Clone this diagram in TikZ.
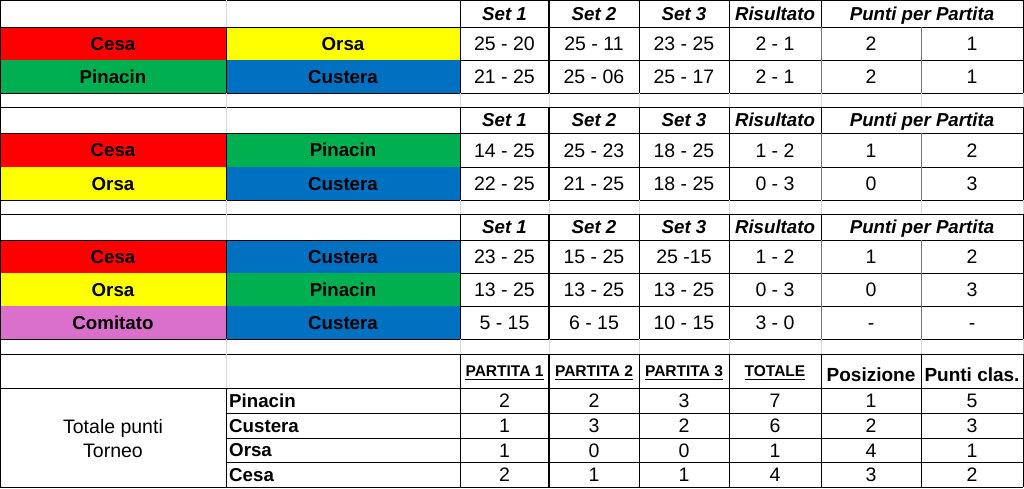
\documentclass[tikz,border=0pt]{standalone}
\usepackage{fontspec}
\setmainfont{Liberation Sans}
\usepackage{tikz}
\definecolor{cesared}{RGB}{255,0,0}
\definecolor{orsayellow}{RGB}{255,255,0}
\definecolor{pinacingreen}{RGB}{0,176,80}
\definecolor{custerablue}{RGB}{0,112,192}
\definecolor{comitatopink}{RGB}{218,112,204}
\definecolor{gridgray}{RGB}{217,217,217}
\begin{document}
\begin{tikzpicture}[x=1pt,y=-1pt,
	val/.style={inner sep=0pt,text height=14pt,text depth=0pt,font=\fontsize{19.5}{23}\selectfont},
	head/.style={inner sep=0pt,text height=13.4pt,text depth=0pt,font=\fontsize{18.7}{22}\selectfont\bfseries\itshape},
	team/.style={inner sep=0pt,text height=13.4pt,text depth=0pt,font=\fontsize{18.7}{22}\selectfont\bfseries},
	part/.style={inner sep=0pt,text height=11.1pt,text depth=0pt,font=\fontsize{15.5}{18}\selectfont\bfseries},
	rank/.style={inner sep=0pt,text height=13.6pt,text depth=0pt,font=\fontsize{19}{22}\selectfont\bfseries},
	blkline/.style={black,line width=1pt},
	thkline/.style={black,line width=2pt},
	dimline/.style={black!55,line width=1pt},
	grdline/.style={gridgray,line width=1pt}]
	\useasboundingbox (0,0) rectangle (1024,488);
	\fill [white] (0,0) rectangle (1024,488);
	% partite
	\foreach \yt/\yb/\ca/\ta/\cb/\tb/\sa/\sb/\sc/\res/\pa/\pb [count=\i] in {
		27/60/cesared/Cesa/orsayellow/Orsa/25 - 20/25 - 11/23 - 25/2 - 1/2/1,
		60/93/pinacingreen/Pinacin/custerablue/Custera/21 - 25/25 - 06/25 - 17/2 - 1/2/1,
		133/167/cesared/Cesa/pinacingreen/Pinacin/14 - 25/25 - 23/18 - 25/1 - 2/1/2,
		167/200/orsayellow/Orsa/custerablue/Custera/22 - 25/21 - 25/18 - 25/0 - 3/0/3,
		240/273/cesared/Cesa/custerablue/Custera/23 - 25/15 - 25/25 -15/1 - 2/1/2,
		273/306/orsayellow/Orsa/pinacingreen/Pinacin/13 - 25/13 - 25/13 - 25/0 - 3/0/3,
		306/339/comitatopink/Comitato/custerablue/Custera/5 - 15/6 - 15/10 - 15/3 - 0/-/-}
	{
		\fill [\ca] (0,\yt) rectangle (226,\yb);
		\fill [\cb] (226,\yt) rectangle (460,\yb);
		\node [team] (home\i) at (113,{(\yt+\yb)/2}) {\ta};
		\node [team] (away\i) at (343,{(\yt+\yb)/2}) {\tb};
		\node [val] (seta\i) at (504.5,{(\yt+\yb)/2}) {\sa};
		\node [val] (setb\i) at (594,{(\yt+\yb)/2}) {\sb};
		\node [val] (setc\i) at (684,{(\yt+\yb)/2}) {\sc};
		\node [val] (res\i) at (775,{(\yt+\yb)/2}) {\res};
		\node [val] (pta\i) at (871,{(\yt+\yb)/2}) {\pa};
		\node [val] (ptb\i) at (972,{(\yt+\yb)/2}) {\pb};
		\draw [blkline] (0,\yb) -- (1023,\yb);
	}
	% intestazioni
	\foreach \yc [count=\j] in {13.5,120,227}
	{
		\node [head] (hseta\j) at (504.5,\yc) {Set 1};
		\node [head] (hsetb\j) at (594,\yc) {Set 2};
		\node [head] (hsetc\j) at (684,\yc) {Set 3};
		\node [head] (hres\j) at (775,\yc) {Risultato};
		\node [head] (hpts\j) at (922,\yc) {Punti per Partita};
	}
	% righe vuote
	\foreach \yt/\yb in {93/107,200/214,339/354}
	{
		\foreach \x in {226,460,549,639,729,821,921,1023}
			\draw [grdline] (\x,\yt) -- (\x,\yb);
		\draw [blkline] (0,\yt) -- (0,\yb);
	}
	% griglia
	\foreach \yt/\yh/\yb in {0/27/93,107/133/200,214/240/339}
	{
		\draw [blkline] (0,\yt) -- (1023,\yt);
		\draw [blkline] (0,\yh) -- (1023,\yh);
		\draw [grdline] (226,\yt) -- (226,\yh);
		\draw [blkline] (226,\yh) -- (226,\yb);
		\foreach \x in {0,460,639,729,1023}
			\draw [blkline] (\x,\yt) -- (\x,\yb);
		\draw [thkline] (549,\yt) -- (549,\yb);
		\draw [blkline] (821,\yt) -- (821,\yh);
		\draw [dimline] (821,\yh) -- (821,\yb);
		\draw [dimline] (921,\yh) -- (921,\yb);
	}
	% totale torneo
	\draw [blkline] (0,354) -- (1023,354);
	\draw [blkline] (0,388) -- (1023,388);
	\draw [blkline] (0,487) -- (1023,487);
	\draw [grdline] (226,354) -- (226,388);
	\draw [blkline] (226,388) -- (226,487);
	\foreach \x in {0,460,639,729,821,921,1023}
		\draw [blkline] (\x,354) -- (\x,487);
	\draw [thkline] (549,354) -- (549,487);
	\foreach \y in {413,438,462}
		\draw [blkline] (226,\y) -- (1023,\y);
	\node [part] (parta) at (504.5,371) {PARTITA 1};
	\node [part] (partb) at (594,371) {PARTITA 2};
	\node [part] (partc) at (684,371) {PARTITA 3};
	\node [part] (totale) at (775,371) {TOTALE};
	\node [rank] (posiz) at (871,375) {Posizione};
	\node [rank] (clas) at (972,375) {Punti clas.};
	\foreach \n in {parta,partb,partc,totale}
		\draw [line width=1.6pt] ([yshift=-3pt]\n.base west) -- ([yshift=-3pt]\n.base east);
	\node [val] (torneoa) at (113,426.5) {Totale punti};
	\node [val] (torneob) at (113,450) {Torneo};
	\foreach \y/\tm/\pa/\pb/\pc/\tot/\pos/\pts [count=\i] in {
		400.5/Pinacin/2/2/3/7/1/5,
		425.5/Custera/1/3/2/6/2/3,
		450/Orsa/1/0/0/1/4/1,
		474.5/Cesa/2/1/1/4/3/2}
	{
		\node [team,anchor=west] (squadra\i) at (229,\y) {\tm};
		\node [val] (pa\i) at (504.5,\y) {\pa};
		\node [val] (pb\i) at (594,\y) {\pb};
		\node [val] (pc\i) at (684,\y) {\pc};
		\node [val] (tot\i) at (775,\y) {\tot};
		\node [val] (pos\i) at (871,\y) {\pos};
		\node [val] (pts\i) at (972,\y) {\pts};
	}
\end{tikzpicture}
\end{document}
